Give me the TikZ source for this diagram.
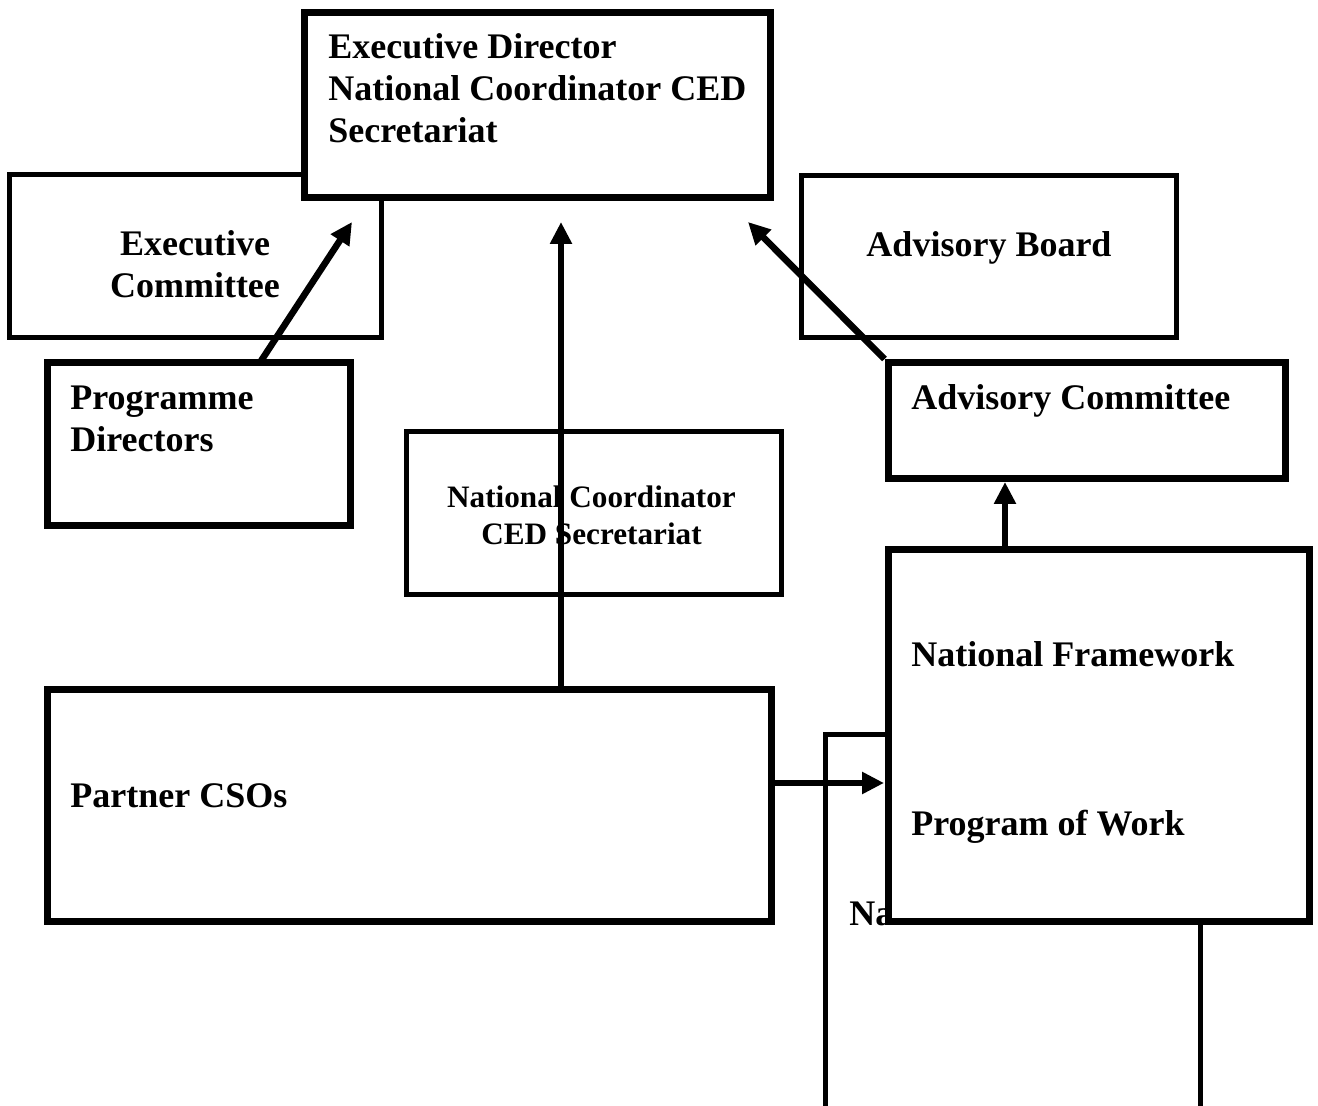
\documentclass[tikz,border=0pt]{standalone}
\usepackage{fontspec}
\setmainfont{Liberation Serif}
\usetikzlibrary{arrows.meta}

\tikzset{
	thickbox/.style={draw, line width=3.5pt, fill=white, inner sep=0pt},
	thinbox/.style={draw, line width=2.5pt, fill=white, inner sep=0pt},
	boxtext/.style={font=\fontsize{18}{21}\selectfont\bfseries, inner sep=0pt},
	smalltext/.style={font=\fontsize{15.6}{18.5}\selectfont\bfseries, inner sep=0pt},
	conn/.style={-{Triangle[length=11pt,width=10.5pt]}, line width=3.3pt},
}

\begin{document}
\begin{tikzpicture}[x=0.5pt,y=-0.5pt]
	\clip (0,0) rectangle (1318,1106);

	% boxes behind the director box
	\node[thinbox, minimum width=185.75pt, minimum height=81.5pt] (ec) at (195.25,256) {};
	\node[thinbox, minimum width=187.5pt, minimum height=81pt] (ab) at (988.5,256.5) {};
	\node[boxtext, align=center, anchor=base] (ectext) at (195,298) {Executive\\Committee};
	\node[boxtext, anchor=base] (abtext) at (989,257) {Advisory Board};

	\node[thickbox, minimum width=232.75pt, minimum height=92.75pt] (ed) at (537.25,105.25) {};
	\node[boxtext, align=left, anchor=base west] (edtext) at (328,143) {Executive Director\\National Coordinator CED\\Secretariat};

	\node[thickbox, minimum width=151.25pt, minimum height=81.5pt] (pd) at (198.75,444) {};
	\node[boxtext, align=left, anchor=base west] (pdtext) at (70,452) {Programme\\Directors};

	\node[thickbox, minimum width=198.75pt, minimum height=58pt] (ac) at (1086.75,420.5) {};
	\node[boxtext, anchor=base west] (actext) at (911,410) {Advisory Committee};

	\node[thinbox, minimum width=187.5pt, minimum height=81.25pt] (nc) at (593.5,513.25) {};
	\node[smalltext, align=center, anchor=base] (nctext) at (591.5,545) {National Coordinator\\CED Secretariat};

	\node[thickbox, minimum width=361.75pt, minimum height=116pt] (pc) at (409.25,805.5) {};
	\node[boxtext, anchor=base west] (pctext) at (70,807) {Partner CSOs};

	% box that runs off the page, mostly under the framework box
	\node[thinbox, minimum width=187.25pt, minimum height=212.5pt] (nb) at (1012.75,947.5) {};
	\node[boxtext, anchor=base west] (nbtext) at (849,925) {Na};

	\node[thickbox, minimum width=210.75pt, minimum height=186pt] (nf) at (1098.75,735.5) {};
	\node[boxtext, anchor=base west] (nftext) at (911,667) {National Framework};
	\node[boxtext, anchor=base west] (pwtext) at (911,835) {Program of Work};

	% arrows
	\coordinate (pdout) at (260,362.5);
	\coordinate (edin1) at (352,222);
	\coordinate (edin2) at (561,222);
	\coordinate (edin3) at (748,222);
	\coordinate (acin) at (1005,482);
	\coordinate (nfin) at (884,783);

	\draw[conn] (pdout) -- (edin1);
	\draw[conn] (pc.north -| edin2) -- (edin2);
	\draw[conn] (ac.north west) -- (edin3);
	\draw[conn] (nf.north -| acin) -- (acin);
	\draw[conn] (pc.east |- nfin) -- (nfin);
\end{tikzpicture}
\end{document}
